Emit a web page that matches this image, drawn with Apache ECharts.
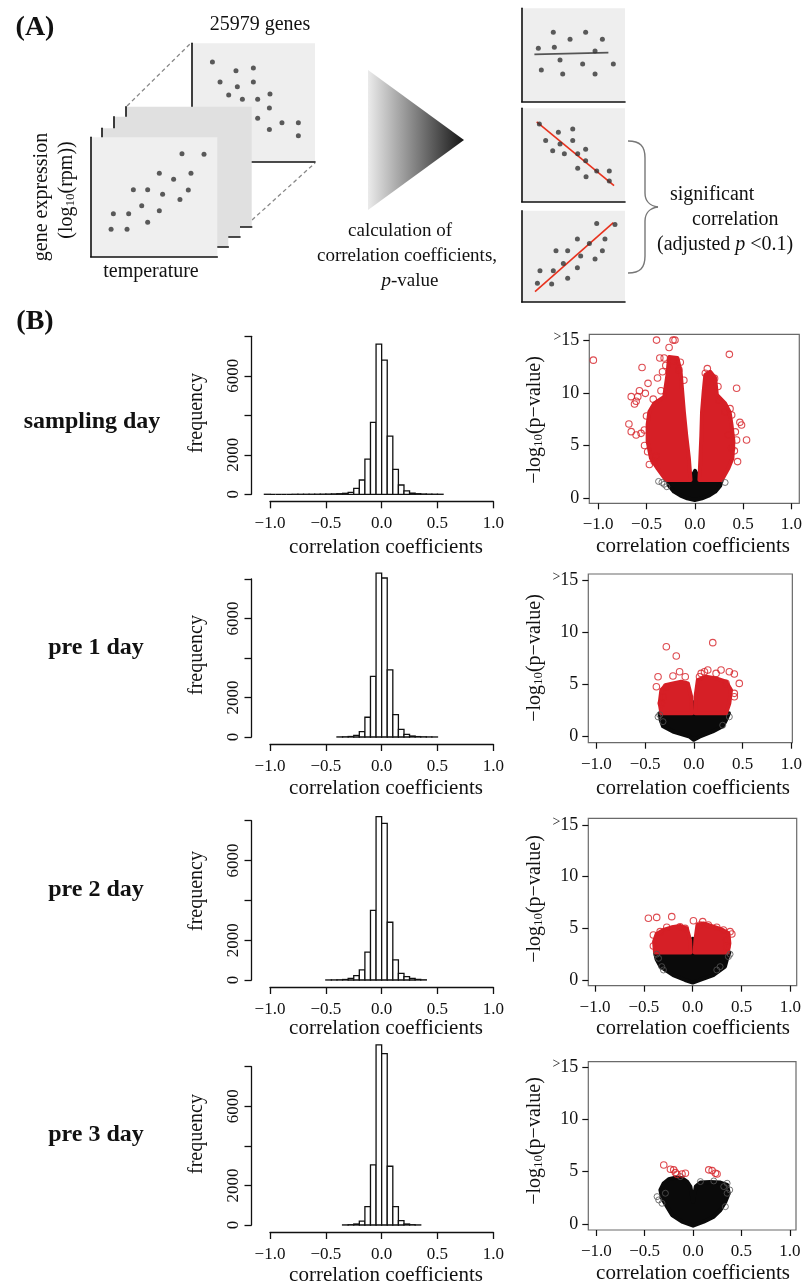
<!DOCTYPE html>
<html><head><meta charset="utf-8">
<script src="https://cdn.jsdelivr.net/npm/echarts@6/dist/echarts.min.js"></script>
<style>html,body{margin:0;padding:0;background:#fff}#c{width:805px;height:1285px}</style>
</head><body><div id="c"></div>
<script>
// ---------------- DATA ----------------
const rowLabels = ['sampling day', 'pre 1 day', 'pre 2 day', 'pre 3 day'];
const corrTicks = [-1, -0.5, 0, 0.5, 1];
const freqTicks = [0, 2000, 4000, 6000, 8000];
const freqLabels = [0, 2000, 6000];
const logpTicks = [0, 5, 10, 15];
const binWidth = 0.05;

const hist1Start = -1.05;
const hist1Counts = [1,0,0,0,0,1,1,2,3,5,8,12,20,30,50,100,300,725,1785,3640,7600,6790,2950,1265,470,170,60,30,15,8,4,2];
const hist2Start = -0.4;
const hist2Counts = [5,10,25,85,270,1000,3070,8300,8050,3400,1135,390,135,50,20,10,5,2];
const hist3Start = -0.5;
const hist3Counts = [3,5,10,25,85,220,505,1395,3500,8200,7870,2900,1010,335,170,80,30,10];
const hist4Start = -0.35;
const hist4Counts = [5,15,50,200,930,3040,9100,8665,2970,930,220,50,15,5];

// volcano plots: dense regions (outline of the cloud) and separate circles
const v1RedLeft = [[-0.044,1.74],[-0.061,3.79],[-0.089,6.0],[-0.113,8.2],[-0.13,10.1],[-0.147,12.0],[-0.18,13.3],[-0.266,13.4],[-0.283,11.7],[-0.317,9.6],[-0.42,9.0],[-0.47,8.2],[-0.488,7.0],[-0.488,5.4],[-0.454,3.8],[-0.386,2.84],[-0.30,1.74]];
const v1RedRight = [[0.048,1.74],[0.058,3.79],[0.068,6.0],[0.075,8.2],[0.092,10.1],[0.109,11.7],[0.16,12.0],[0.21,11.4],[0.229,9.8],[0.314,9.0],[0.36,8.2],[0.38,7.0],[0.40,5.4],[0.39,3.8],[0.348,2.84],[0.28,1.74]];
const v1Black = [[-0.283,1.74],[-0.044,1.74],[0.003,2.6],[0.048,1.74],[0.28,1.74],[0.263,1.2],[0.212,0.63],[0.143,0.25],[0.075,0],[0,-0.16],[-0.078,0],[-0.147,0.25],[-0.215,0.63],[-0.266,1.2]];
const v1RedPts = [[-0.396,15],[-0.225,15],[-0.205,15],[-0.266,14.3],[0.358,13.65],[-1.05,13.1],[-0.546,12.4],[-0.362,13.3],[-0.317,13.3],[-0.232,13.0],[-0.386,11.4],[-0.334,12.0],[-0.164,12.2],[-0.113,11.2],[-0.484,10.9],[-0.573,10.2],[-0.59,9.64],[-0.624,8.94],[-0.658,9.64],[-0.607,9.2],[-0.512,9.95],[-0.682,7.05],[-0.658,6.32],[-0.607,6.0],[-0.556,6.16],[-0.522,6.48],[-0.488,4.42],[-0.42,3.48],[-0.40,3.95],[0.109,11.85],[0.126,11.06],[0.205,11.37],[0.433,10.43],[0.314,8.2],[0.365,8.5],[0.382,7.9],[0.467,7.2],[0.484,6.95],[0.536,5.53],[0.433,5.53],[0.443,3.48],[0.348,6.0],[0.382,4.74],[-0.5,7.8],[-0.52,5.0],[-0.47,3.2],[0.42,6.3],[0.41,4.5],[0.24,10.6],[0.25,9.3],[-0.43,9.4],[-0.35,10.2],[-0.3,12.6],[-0.15,12.9],[0.13,12.3]];
const v1BlackPts = [[-0.375,1.6],[-0.317,1.33],[-0.29,1.1],[0.314,1.5],[-0.34,1.5]];

const v2RedLeft = [[-0.017,2.24],[-0.027,3.83],[-0.061,5.1],[-0.129,5.27],[-0.214,5.1],[-0.282,4.95],[-0.333,4.47],[-0.35,3.2],[-0.333,2.24]];
const v2RedRight = [[0.017,2.24],[0.017,3.83],[0.041,5.42],[0.126,5.74],[0.228,5.58],[0.33,5.27],[0.381,4.47],[0.364,3.2],[0.33,2.24]];
const v2Black = [[-0.35,2.24],[-0.017,2.24],[0.0,3.3],[0.017,2.24],[0.36,2.24],[0.33,1.6],[0.296,1.0],[0.194,0.5],[0.058,0],[0,-0.3],[-0.044,0],[-0.214,0.5],[-0.316,1.0],[-0.34,1.6]];
const v2RedPts = [[-0.282,8.61],[-0.18,7.72],[0.194,9.0],[-0.367,5.74],[-0.214,5.81],[-0.146,6.22],[-0.088,5.74],[0.075,6.06],[0.143,6.38],[0.279,6.38],[0.364,6.22],[0.415,6.0],[0.466,5.1],[0.415,4.15],[0.415,3.83],[-0.384,4.78],[-0.333,3.19],[0.33,5.1],[-0.282,4.78],[-0.316,3.83],[0.058,5.74],[0.109,6.22],[0.228,6.06]];
const v2BlackPts = [[0.296,1.1],[-0.35,2.1],[-0.367,1.9],[-0.316,1.44],[0.364,1.9]];

const v3RedLeft = [[-0.02,2.65],[-0.027,3.87],[-0.061,5.0],[-0.13,5.23],[-0.215,5.1],[-0.30,4.84],[-0.369,4.45],[-0.396,3.71],[-0.386,2.65]];
const v3RedRight = [[0.02,2.65],[0.027,3.87],[0.048,5.32],[0.109,5.48],[0.212,5.16],[0.297,4.9],[0.365,4.52],[0.375,3.55],[0.358,2.65]];
const v3Black = [[-0.386,2.65],[-0.02,2.65],[0.0,4.0],[0.02,2.65],[0.375,2.65],[0.35,2.0],[0.33,1.3],[0.21,0.48],[0.075,0],[0,-0.25],[-0.078,0],[-0.2,0.48],[-0.33,1.3],[-0.37,2.0]];
const v3RedPts = [[-0.454,5.97],[-0.369,6.06],[-0.215,6.13],[0.007,5.74],[0.102,5.65],[0.075,5.32],[0.246,5.1],[0.382,4.68],[0.40,4.45],[0.348,3.87],[0.348,3.23],[-0.403,3.29],[-0.403,4.35],[-0.13,5.16],[-0.078,5.0],[-0.266,5.1],[-0.334,4.68],[0.16,5.32],[0.314,4.84]];
const v3BlackPts = [[-0.317,1.29],[0.246,0.97],[0.382,2.5],[-0.369,2.5],[-0.35,2.1],[0.365,2.26],[0.28,1.29],[-0.30,0.97]];

const v4Black = [[0,-0.16],[-0.114,0.22],[-0.217,0.86],[-0.269,1.66],[-0.321,2.46],[-0.338,3.26],[-0.303,3.9],[-0.252,4.28],[-0.183,4.44],[-0.114,4.38],[-0.062,4.06],[-0.028,3.58],[0,2.14],[0.028,3.58],[0.076,3.96],[0.179,4.03],[0.283,3.96],[0.352,3.74],[0.369,2.94],[0.334,2.14],[0.283,1.34],[0.214,0.7],[0.11,0.22]];
const v4RedPts = [[-0.303,5.65],[-0.234,5.24],[-0.2,5.18],[-0.166,4.76],[-0.114,4.79],[-0.079,4.86],[0.162,5.18],[0.197,5.11],[0.231,4.86],[0.248,4.79],[-0.183,4.92]];
const v4BlackPts = [[0.352,3.9],[0.379,3.26],[0.352,2.94],[-0.372,2.62],[-0.355,2.3],[-0.321,1.98],[0.334,1.66],[-0.286,2.94],[0.317,3.58],[-0.131,4.54],[0.076,4.06],[0.214,4.12]];

// schematic (panel A) dots, in 0-100 panel units
const schemeBackDots = [[16.8,84.2],[35.9,76.9],[50.0,79.2],[23.0,67.3],[37.0,63.4],[50.0,67.3],[30.0,56.3],[41.1,52.7],[53.5,52.7],[63.5,57.2],[63.0,45.4],[53.5,36.6],[63.0,27.3],[73.2,33.0],[86.5,33.0],[86.5,22.0]];
const schemeFrontDots = [[16.1,22.9],[28.7,22.9],[17.9,36.0],[30.0,36.0],[45.0,28.8],[40.3,42.7],[54.2,38.5],[33.7,56.1],[45.0,56.1],[56.8,52.2],[70.5,48.0],[54.2,69.8],[65.5,64.8],[77.1,55.9],[79.2,69.8],[72.1,86.3],[89.5,85.8]];
const schemeFlatDots = [[16.1,57.1],[30.6,74.3],[31.6,58.2],[46.8,66.8],[61.9,74.3],[78.1,66.8],[71.0,54.3],[37.1,44.6],[59.0,40.4],[88.7,40.4],[19.0,33.9],[39.7,29.6],[71.0,29.6]];
const schemeFlatLine = [[12.3,50.7],[83.9,52.5]];
const schemeNegDots = [[17.1,83.2],[35.5,74.3],[49.4,77.9],[23.2,65.4],[37.1,61.8],[49.4,65.4],[30.0,54.6],[41.3,51.4],[54.2,51.4],[61.9,56.1],[61.9,43.9],[54.2,35.7],[72.6,32.9],[84.8,32.9],[62.3,26.8],[84.8,22.1]];
const schemeNegLine = [[14.5,85.4],[89.4,17.1]];
const schemePosDots = [[15.2,20.4],[29.0,19.7],[17.7,34.3],[30.6,34.3],[44.5,25.9],[40.3,42.3],[53.9,37.6],[33.2,56.2],[44.5,56.2],[57.1,50.4],[71.0,47.1],[53.9,69.0],[65.5,64.2],[78.1,56.2],[80.6,69.0],[72.6,86.1],[90.3,85.0]];
const schemePosLine = [[12.9,11.3],[88.7,86.9]];

// ---------------- LAYOUT / STYLE ----------------
const FONT = '"Liberation Serif","Times New Roman",serif';
const RED = '#d61f26';
const histLayout = [
  {top:336.3, bottom:494.3, titleY:547, freqY:413},
  {top:579, bottom:737, titleY:788, freqY:655},
  {top:820.7, bottom:980, titleY:1028, freqY:891},
  {top:1066.7, bottom:1225, titleY:1275, freqY:1134}
];
const volcLayout = [
  {left:589.3,right:801.7,top:334.3,bottom:503.3,xmin:-1.092,xmax:1.082,ymin:-0.474,ymax:15.55,titleY:546.7,ytY:420},
  {left:588.3,right:793.3,top:574,bottom:742.7,xmin:-1.082,xmax:1.01,ymin:-0.574,ymax:15.57,titleY:788.3,ytY:658},
  {left:588.3,right:796.7,top:818.3,bottom:985.7,xmin:-1.069,xmax:1.064,ymin:-0.552,ymax:15.65,titleY:1028.3,ytY:899},
  {left:588.3,right:796,top:1061.7,bottom:1230,xmin:-1.083,xmax:1.064,ymin:-0.574,ymax:15.53,titleY:1273.3,ytY:1141}
];
const rowLabelY = [422, 648, 890, 1135];

const hists = [[hist1Start,hist1Counts],[hist2Start,hist2Counts],[hist3Start,hist3Counts],[hist4Start,hist4Counts]];
const volcs = [
  {redL:v1RedLeft, redR:v1RedRight, black:v1Black, redPts:v1RedPts, blackPts:v1BlackPts},
  {redL:v2RedLeft, redR:v2RedRight, black:v2Black, redPts:v2RedPts, blackPts:v2BlackPts},
  {redL:v3RedLeft, redR:v3RedRight, black:v3Black, redPts:v3RedPts, blackPts:v3BlackPts},
  {redL:null, redR:null, black:v4Black, redPts:v4RedPts, blackPts:v4BlackPts}
];

const grid = [], xAxis = [], yAxis = [], series = [], elements = [];
function fmt(v){ return (v < 0 ? '\u2212' : '') + Math.abs(v).toFixed(1); }

// ---------- panel A schematic ----------
const panels = [
  {rect:[191.7,43.3,123.3,118.4], fill:'#eeeeee', dots:schemeBackDots},
  {rect:[126,106.7,125.7,120], fill:'#e0e0e0'},
  {rect:[113.3,116.7,126.7,120], fill:'#e0e0e0'},
  {rect:[101.7,128.3,126.6,118.4], fill:'#e0e0e0'},
  {rect:[90.7,137.3,126.6,119.4], fill:'#efefef', dots:schemeFrontDots},
  {rect:[521.7,8.3,103.3,93.4], fill:'#eeeeee', dots:schemeFlatDots, line:schemeFlatLine, lineColor:'#555'},
  {rect:[521.7,108.3,103.3,93.4], fill:'#eeeeee', dots:schemeNegDots, line:schemeNegLine, lineColor:'#e8321e'},
  {rect:[521.7,210.7,103.3,91.3], fill:'#eeeeee', dots:schemePosDots, line:schemePosLine, lineColor:'#e8321e'}
];
panels.forEach((p, k) => {
  const z = 10 * (k + 1);
  const gi = grid.length;
  grid.push({left:p.rect[0], top:p.rect[1], width:p.rect[2], height:p.rect[3], show:true, backgroundColor:p.fill, borderWidth:0, z:z});
  const mk = () => ({gridIndex:gi, type:'value', min:0, max:100, z:z+1,
    axisLine:{show:true, onZero:false, lineStyle:{color:'#111', width:1.6}},
    axisTick:{show:false}, axisLabel:{show:false}, splitLine:{show:false}});
  xAxis.push(mk()); yAxis.push(mk());
  const ai = xAxis.length - 1;
  if (p.line) series.push({type:'line', xAxisIndex:ai, yAxisIndex:ai, data:p.line, symbol:'none', z:z+2, silent:true, animation:false, lineStyle:{color:p.lineColor, width:1.6}});
  if (p.dots) series.push({type:'scatter', xAxisIndex:ai, yAxisIndex:ai, data:p.dots, symbol:'circle', symbolSize:5, z:z+3, silent:true, animation:false, itemStyle:{color:'#333'}});
});

// ---------- histograms ----------
hists.forEach((h, r) => {
  const L = histLayout[r];
  const gi = grid.length;
  grid.push({left:270, top:L.top, width:223.3, height:L.bottom - L.top, show:false});
  xAxis.push({gridIndex:gi, type:'value', min:-1, max:1, interval:0.5, offset:7,
    axisLine:{show:true, onZero:false, lineStyle:{color:'#111', width:1.3}},
    axisTick:{show:true, length:7, lineStyle:{color:'#111', width:1.3}},
    axisLabel:{margin:14, fontSize:17, fontFamily:FONT, color:'#111', formatter:fmt},
    splitLine:{show:false}});
  yAxis.push({gridIndex:gi, type:'value', min:0, max:8000, interval:2000, offset:18.5,
    axisLine:{show:true, onZero:false, lineStyle:{color:'#111', width:1.3}},
    axisTick:{show:true, length:7, lineStyle:{color:'#111', width:1.3}},
    axisLabel:{margin:9, rotate:90, fontSize:17, fontFamily:FONT, color:'#111',
      formatter: v => freqLabels.indexOf(v) >= 0 ? String(v) : ''},
    splitLine:{show:false}});
  const ai = xAxis.length - 1;
  const start = h[0], counts = h[1];
  series.push({type:'custom', xAxisIndex:ai, yAxisIndex:ai, clip:false, silent:true, animation:false,
    data: counts.map((c, i) => [start + i * binWidth, start + (i + 1) * binWidth, c]),
    encode:{x:[0,1], y:2},
    renderItem: (params, api) => {
      const p0 = api.coord([api.value(0), api.value(2)]);
      const p1 = api.coord([api.value(1), 0]);
      return {type:'rect', shape:{x:p0[0], y:p0[1], width:p1[0]-p0[0], height:p1[1]-p0[1]},
        style:{fill:'#fff', stroke:'#111', lineWidth:1.3}};
    }});
});

// ---------- volcano plots ----------
function polySeries(ai, pts, color, z) {
  return {type:'custom', xAxisIndex:ai, yAxisIndex:ai, clip:true, silent:true, animation:false, z:z,
    data: pts, encode:{x:0, y:1},
    renderItem: (params, api) => {
      if (params.dataIndex !== 0) return {type:'group', children:[]};
      return {type:'polygon', shape:{points: pts.map(p => api.coord(p))},
        style:{fill:color, stroke:color, lineWidth:4, lineJoin:'round'}};
    }};
}
volcs.forEach((v, r) => {
  const L = volcLayout[r];
  const gi = grid.length;
  grid.push({left:L.left, top:L.top, width:L.right - L.left, height:L.bottom - L.top, show:true,
    backgroundColor:'rgba(0,0,0,0)', borderColor:'#6a6a6a', borderWidth:1.2});
  xAxis.push({gridIndex:gi, type:'value', min:L.xmin, max:L.xmax, position:'bottom',
    axisLine:{show:false, onZero:false},
    axisTick:{show:true, customValues:corrTicks, length:6, lineStyle:{color:'#111', width:1.2}},
    axisLabel:{customValues:corrTicks, margin:13, fontSize:17, fontFamily:FONT, color:'#111', formatter:fmt},
    splitLine:{show:false}});
  yAxis.push({gridIndex:gi, type:'value', min:L.ymin, max:L.ymax, position:'left',
    axisLine:{show:false, onZero:false},
    axisTick:{show:true, customValues:logpTicks, length:6, lineStyle:{color:'#111', width:1.2}},
    axisLabel:{customValues:logpTicks, margin:10, fontSize:18, fontFamily:FONT, color:'#111',
      formatter: val => val === 15 ? '{g|>}{n|15}' : '{n|' + val + '}',
      rich:{n:{fontSize:18, fontFamily:FONT, color:'#111', lineHeight:20},
            g:{fontSize:14, fontFamily:FONT, color:'#111', verticalAlign:'top', lineHeight:12}}},
    splitLine:{show:false}});
  const ai = xAxis.length - 1;
  series.push(polySeries(ai, v.black, '#0a0a0a', 3));
  if (v.redL) series.push(polySeries(ai, v.redL, RED, 4));
  if (v.redR) series.push(polySeries(ai, v.redR, RED, 4));
  series.push({type:'scatter', xAxisIndex:ai, yAxisIndex:ai, data:v.blackPts, symbol:'circle', symbolSize:6, clip:true, silent:true, animation:false, z:5,
    itemStyle:{color:'rgba(0,0,0,0)', borderColor:'#555', borderWidth:1}});
  series.push({type:'scatter', xAxisIndex:ai, yAxisIndex:ai, data:v.redPts, symbol:'circle', symbolSize:6.5, clip:true, silent:true, animation:false, z:6,
    itemStyle:{color:'rgba(0,0,0,0)', borderColor:RED, borderWidth:1.1}});
});

// ---------- texts & decorations ----------
function txt(x, y, text, o) {
  o = o || {};
  const st = {text:text, fontSize:o.size || 20, fontFamily:FONT, fontWeight:o.bold ? 'bold' : 'normal',
    fill:'#111', align:o.align || 'center', verticalAlign:'middle',
    textAlign:o.align || 'center', textVerticalAlign:'middle'};
  if (o.rich) st.rich = o.rich;
  return {type:'text', x:x, y:y, rotation:o.rot || 0, z:200, silent:true, style:st};
}
const subRich = {s:{fontSize:13, fontFamily:FONT, fill:'#111', verticalAlign:'bottom', lineHeight:18},
                 i:{fontSize:20, fontFamily:FONT, fontStyle:'italic', fill:'#111'}};
const R90 = Math.PI / 2;

elements.push(txt(35, 28, '(A)', {size:28, bold:true}));
elements.push(txt(35, 322, '(B)', {size:28, bold:true}));
elements.push(txt(260, 25, '25979 genes', {size:20}));
elements.push(txt(42, 197, 'gene expression', {size:20, rot:R90}));
elements.push(txt(67, 190, '(log{s|10}(rpm))', {size:20, rot:R90, rich:subRich}));
elements.push(txt(151, 272, 'temperature', {size:20}));
elements.push(txt(400, 231, 'calculation of', {size:19}));
elements.push(txt(407, 256, 'correlation coefficients,', {size:19}));
elements.push(txt(410, 281, '{i|p}-value', {size:19, rich:{i:{fontSize:19, fontFamily:FONT, fontStyle:'italic', fill:'#111'}}}));
elements.push(txt(670, 195, 'significant', {size:20, align:'left'}));
elements.push(txt(692, 220, 'correlation', {size:20, align:'left'}));
elements.push(txt(657, 245, '(adjusted {i|p} <0.1)', {size:20, align:'left', rich:subRich}));

// triangle, dashed connectors, brace
elements.push({type:'polygon', z:5, silent:true, shape:{points:[[368,70],[368,210],[464,140]]},
  style:{fill:{type:'linear', x:0, y:0, x2:1, y2:0, colorStops:[{offset:0, color:'#ebebeb'},{offset:1, color:'#161616'}]}}});
elements.push({type:'line', z:5, silent:true, shape:{x1:127, y1:106, x2:191, y2:43}, style:{stroke:'#888', lineWidth:1.3, lineDash:[4,3]}});
elements.push({type:'line', z:5, silent:true, shape:{x1:252, y1:220, x2:315, y2:163}, style:{stroke:'#888', lineWidth:1.3, lineDash:[4,3]}});
const braceStyle = {fill:'none', stroke:'#777', lineWidth:1.4};
elements.push({type:'bezierCurve', z:5, silent:true, shape:{x1:628, y1:141, cpx1:640, cpy1:141, cpx2:645, cpy2:146, x2:645, y2:158}, style:braceStyle});
elements.push({type:'line', z:5, silent:true, shape:{x1:645, y1:158, x2:645, y2:193}, style:braceStyle});
elements.push({type:'bezierCurve', z:5, silent:true, shape:{x1:645, y1:193, cpx1:645, cpy1:201, cpx2:650, cpy2:206, x2:658, y2:207}, style:braceStyle});
elements.push({type:'bezierCurve', z:5, silent:true, shape:{x1:658, y1:207, cpx1:650, cpy1:208, cpx2:645, cpy2:213, x2:645, y2:221}, style:braceStyle});
elements.push({type:'line', z:5, silent:true, shape:{x1:645, y1:221, x2:645, y2:256}, style:braceStyle});
elements.push({type:'bezierCurve', z:5, silent:true, shape:{x1:645, y1:256, cpx1:645, cpy1:268, cpx2:640, cpy2:273, x2:628, y2:273}, style:braceStyle});

rowLabels.forEach((t, r) => {
  elements.push(txt(r === 0 ? 92 : 96, rowLabelY[r], t, {size:24, bold:true}));
  const H = histLayout[r], V = volcLayout[r];
  elements.push(txt(197, H.freqY, 'frequency', {size:20, rot:R90}));
  elements.push(txt(386, H.titleY, 'correlation coefficients', {size:21}));
  elements.push(txt(693, V.titleY, 'correlation coefficients', {size:21}));
  elements.push(txt(535, V.ytY, '\u2212log{s|10}(p\u2212value)', {size:20, rot:R90, rich:subRich}));
});

const chart = echarts.init(document.getElementById('c'), null, {renderer:'canvas', width:805, height:1285});
chart.setOption({
  animation:false,
  backgroundColor:'#fff',
  textStyle:{fontFamily:FONT},
  grid:grid, xAxis:xAxis, yAxis:yAxis, series:series,
  graphic:{elements:elements}
});
</script></body></html>
